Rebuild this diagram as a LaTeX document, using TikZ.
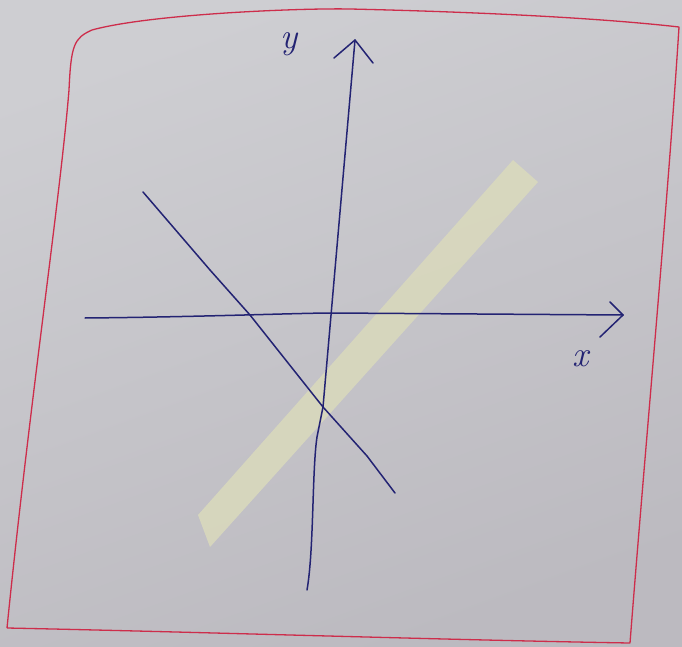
\documentclass[tikz,border=0pt]{standalone}
\usetikzlibrary{calc}
\definecolor{paperA}{RGB}{206,206,210}
\definecolor{paperB}{RGB}{188,186,192}
\definecolor{redpen}{RGB}{205,45,75}
\definecolor{bluepen}{RGB}{35,35,115}
\definecolor{marker}{RGB}{218,218,188}
\tikzset{
  pen/.style={draw=bluepen, line width=1.5pt, line cap=round, line join=round},
  border/.style={draw=redpen, line width=1.3pt, line join=round},
  hand/.style={text=bluepen, font=\itshape\fontsize{36}{38}\selectfont, inner sep=0pt},
}
\begin{document}
\begin{tikzpicture}[x=1pt,y=-1pt]
\useasboundingbox (0,0) rectangle (682,647);
\shade[top color=paperA, bottom color=paperB, shading angle=20] (0,0) rectangle (682,647);
% red frame
\coordinate (tl) at (75,34);
\coordinate (tr) at (679,27);
\coordinate (br) at (630,643);
\coordinate (bl) at (7,628);
\draw[border] (bl) .. controls (30,400) and (60,200) .. (69,90) .. controls (71,45) and (74,38) .. (92,30)
  .. controls (150,14) and (300,8) .. (350,9) .. controls (480,12) and (600,18) .. (tr)
  .. controls (668,200) and (645,450) .. (br)
  .. controls (450,640) and (200,632) .. (bl);
% highlighter band
\fill[marker, opacity=0.85] (513,160) -- (538,182) -- (210,547) -- (198,515) -- cycle;
% x axis
\coordinate (xl) at (85,318);
\coordinate (xr) at (623,315);
\draw[pen] (xl) .. controls (200,317) and (300,313) .. (332,313) -- (xr);
\draw[pen] (610,302) -- (xr) -- (600,337);
% y axis
\coordinate (yb) at (307,590);
\coordinate (yt) at (355,40);
\draw[pen] (yb) .. controls (314,550) and (312,470) .. (317,437) -- (323,407) -- (yt);
\draw[pen] (334,58) -- (yt) -- (373,63);
% decreasing line
\coordinate (la) at (143,192);
\coordinate (lb) at (395,493);
\draw[pen] (la) -- (210,270) -- (250,315) -- (323,407) -- (367,456) -- (lb);
% labels
\node[hand] (ylab) at (289,44) {y};
\node[hand] (xlab) at (581,359) {x};
\end{tikzpicture}
\end{document}
